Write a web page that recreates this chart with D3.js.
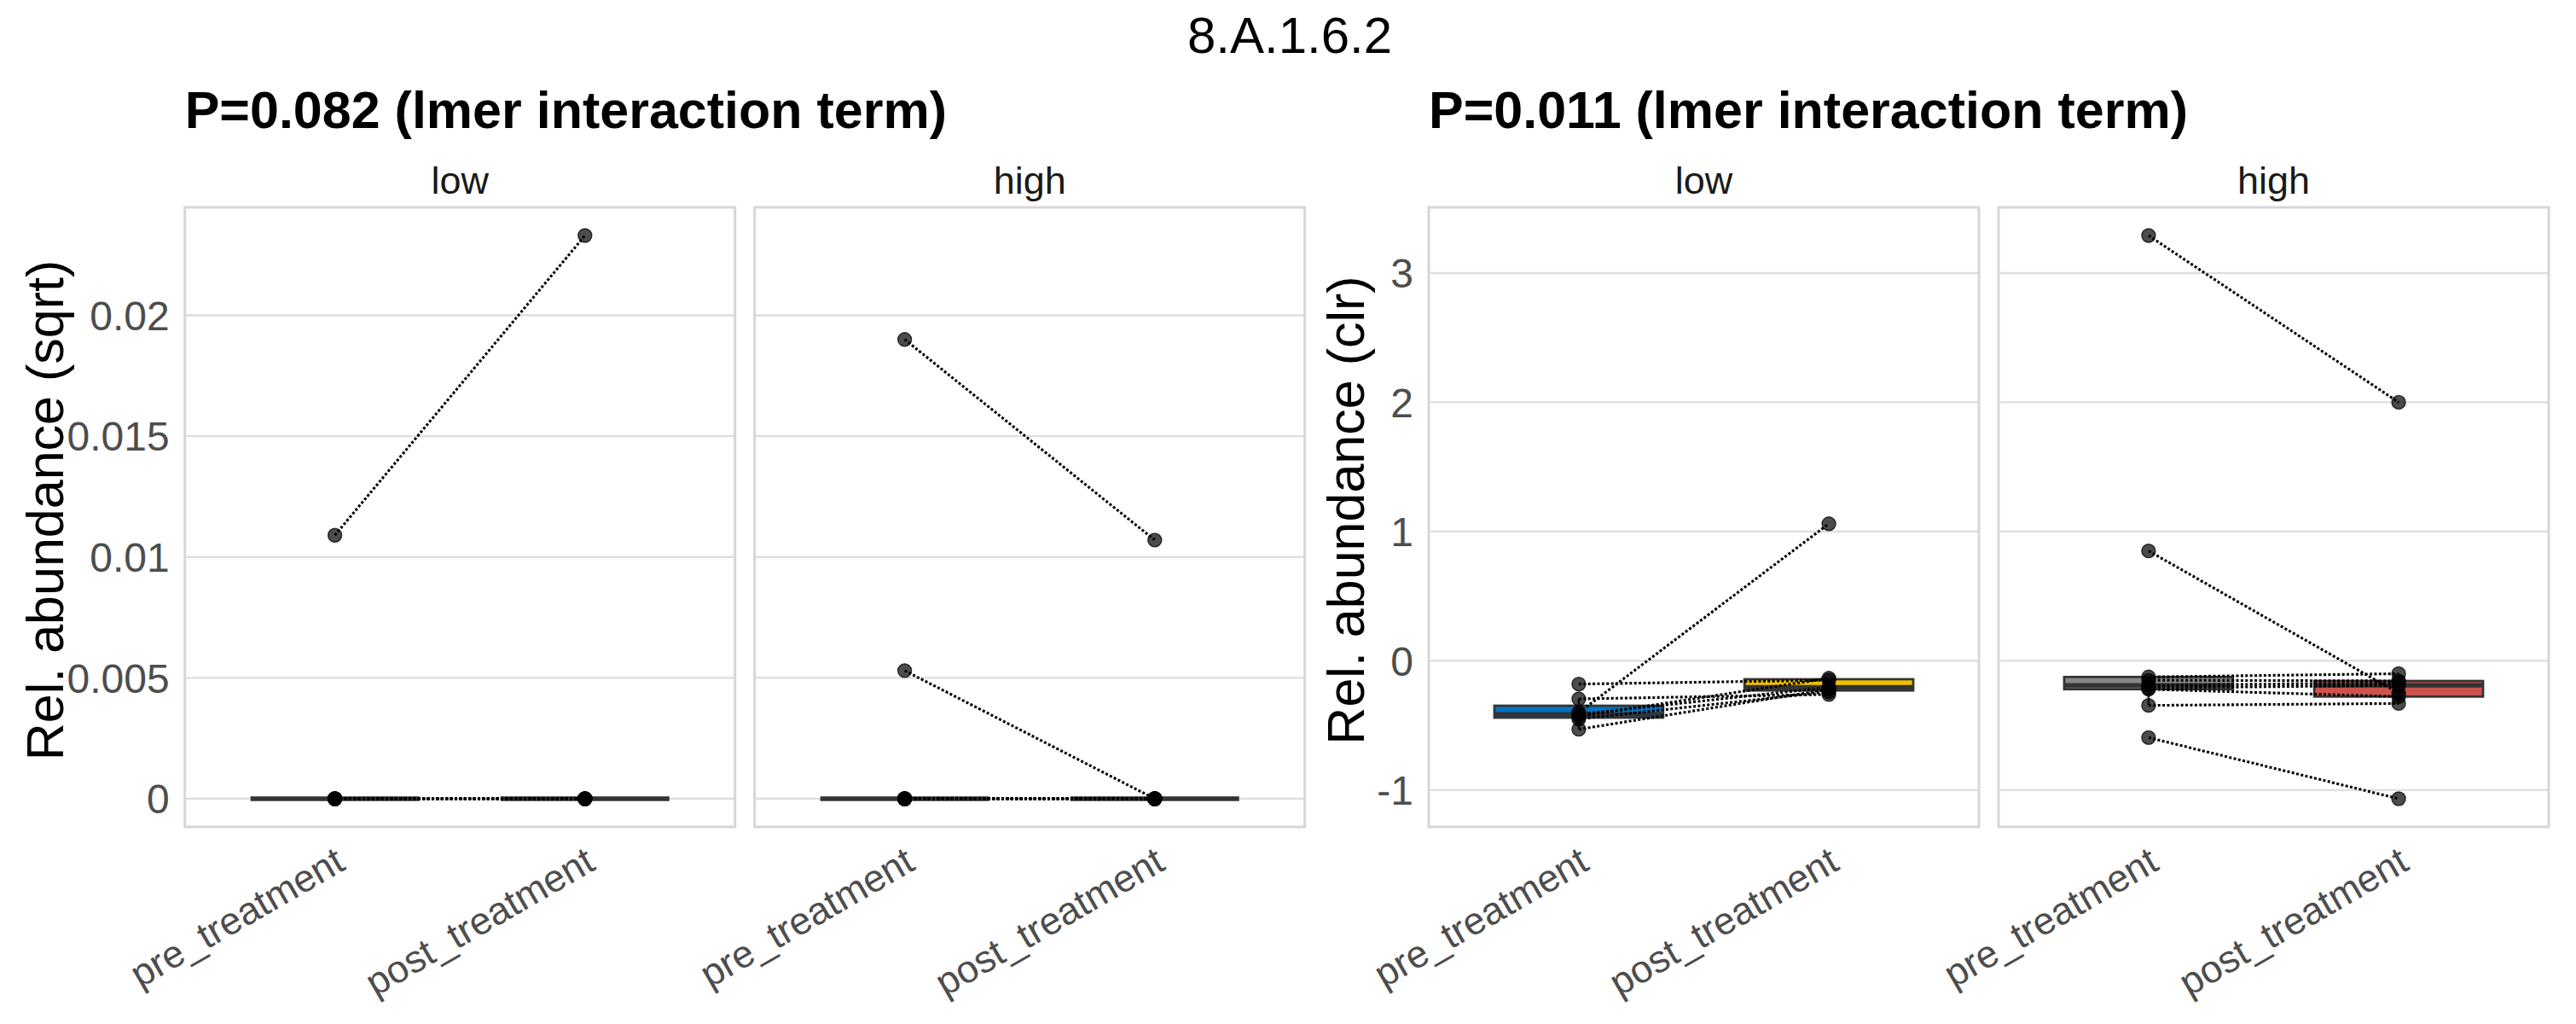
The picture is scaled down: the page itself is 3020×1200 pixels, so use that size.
<!DOCTYPE html>
<html>
<head>
<meta charset="utf-8">
<script src="https://cdn.jsdelivr.net/npm/d3@7"></script>
<style>
  body { margin: 0; background: #fff; }
  text { font-family: "Liberation Sans", Arial, sans-serif; }
</style>
</head>
<body>
<div id="chart"></div>
<script>
// categories
var groups = ["low", "high"];
var timepoints = ["pre_treatment", "post_treatment"];

// sqrt-transformed abundance, paired by subject (index)
var sqrtLowPre   = [0, 0, 0.0109, 0, 0, 0, 0];
var sqrtLowPost  = [0, 0, 0.0233, 0, 0, 0, 0];
var sqrtHighPre  = [0.019, 0.0053, 0, 0, 0, 0, 0, 0, 0];
var sqrtHighPost = [0.0107, 0, 0, 0, 0, 0, 0, 0, 0];

// clr-transformed abundance, paired by subject (index)
var clrLowPre   = [-0.18, -0.295, -0.40, -0.414, -0.43, -0.45, -0.53];
var clrLowPost  = [-0.15, -0.26, 1.06, -0.205, -0.135, -0.24, -0.22];
var clrHighPre  = [3.29, 0.85, -0.125, -0.15, -0.19, -0.21, -0.22, -0.345, -0.594];
var clrHighPost = [2.0, -0.25, -0.10, -0.156, -0.17, -0.19, -0.277, -0.33, -1.067];

// tick labels
var sqrtTicks = [0, 0.005, 0.01, 0.015, 0.02];
var sqrtTickLabels = ["0", "0.005", "0.01", "0.015", "0.02"];
var clrTicks = [-1, 0, 1, 2, 3];
var clrTickLabels = ["-1", "0", "1", "2", "3"];

var mainTitle = "8.A.1.6.2";
var plotTitles = ["P=0.082 (lmer interaction term)", "P=0.011 (lmer interaction term)"];
var yTitles = ["Rel. abundance (sqrt)", "Rel. abundance (clr)"];

// box fill colours (jco)
var boxColors = {
  low: ["#0073C2", "#EFC000"],
  high: ["#868686", "#CD534C"]
};

var svgWidth = 3020;
var svgHeight = 1200;

var svg = d3.select("#chart")
  .append("svg")
  .attr("width", svgWidth)
  .attr("height", svgHeight);

svg.append("rect").attr("width", svgWidth).attr("height", svgHeight).attr("fill", "#fff");

svg.append("text")
  .attr("x", 1512)
  .attr("y", 62)
  .attr("text-anchor", "middle")
  .style("font-size", "60px")
  .text(mainTitle);

var panelTop = 243;
var panelBottom = 969;
var panelW = 645;
var panelGap = 23;

function boxStats(values) {
  var s = values.slice().sort(d3.ascending);
  var q1 = d3.quantile(s, 0.25), med = d3.quantile(s, 0.5), q3 = d3.quantile(s, 0.75);
  var iqr = q3 - q1;
  var lo = d3.min(s.filter(v => v >= q1 - 1.5 * iqr));
  var hi = d3.max(s.filter(v => v <= q3 + 1.5 * iqr));
  return {q1: q1, med: med, q3: q3, lo: lo, hi: hi};
}

function drawPlot(opts) {
  var all = [].concat(opts.data.low[0], opts.data.low[1], opts.data.high[0], opts.data.high[1]);
  var mn = d3.min(all), mx = d3.max(all), span = mx - mn;
  var y = d3.scaleLinear()
    .domain([mn - 0.05 * span, mx + 0.05 * span])
    .range([panelBottom, panelTop]);

  // plot title
  svg.append("text")
    .attr("x", opts.left)
    .attr("y", 150)
    .style("font-size", "61px")
    .style("font-weight", "bold")
    .text(opts.title);

  // y axis title
  svg.append("text")
    .attr("transform", `translate(${opts.yTitleX}, ${(panelTop + panelBottom) / 2 - 8}) rotate(-90)`)
    .attr("text-anchor", "middle")
    .style("font-size", "61px")
    .text(opts.yTitle);

  // y tick labels
  svg.append("g").selectAll("text")
    .data(opts.ticks)
    .enter()
    .append("text")
    .attr("x", opts.left - 18)
    .attr("y", d => y(d))
    .attr("dy", "0.36em")
    .attr("text-anchor", "end")
    .attr("fill", "#4D4D4D")
    .style("font-size", "48px")
    .text((d, i) => opts.tickLabels[i]);

  groups.forEach(function(g, gi) {
    var x0 = opts.left + gi * (panelW + panelGap);
    var x = d3.scalePoint().domain(timepoints).range([x0, x0 + panelW]).padding(0.6);
    var boxW = x.step() * 0.675;
    var pre = opts.data[g][0], post = opts.data[g][1];
    var panel = svg.append("g");

    // strip label
    panel.append("text")
      .attr("x", x0 + panelW / 2)
      .attr("y", 227)
      .attr("text-anchor", "middle")
      .attr("fill", "#1A1A1A")
      .style("font-size", "45px")
      .text(g);

    // gridlines
    panel.append("g").selectAll("line")
      .data(opts.ticks)
      .enter()
      .append("line")
      .attr("x1", x0).attr("x2", x0 + panelW)
      .attr("y1", d => y(d)).attr("y2", d => y(d))
      .attr("stroke", "#DEDEDE")
      .attr("stroke-width", 2.4);

    // panel border
    panel.append("rect")
      .attr("x", x0).attr("y", panelTop)
      .attr("width", panelW).attr("height", panelBottom - panelTop)
      .attr("fill", "none")
      .attr("stroke", "#D6D6D6")
      .attr("stroke-width", 3);

    // boxplots
    timepoints.forEach(function(t, ti) {
      var st = boxStats(opts.data[g][ti]);
      var cx = x(t);
      var bg = panel.append("g");
      bg.append("line")
        .attr("x1", cx).attr("x2", cx)
        .attr("y1", y(st.q3)).attr("y2", y(st.hi))
        .attr("stroke", "#333").attr("stroke-width", 2.7);
      bg.append("line")
        .attr("x1", cx).attr("x2", cx)
        .attr("y1", y(st.q1)).attr("y2", y(st.lo))
        .attr("stroke", "#333").attr("stroke-width", 2.7);
      bg.append("rect")
        .attr("x", cx - boxW / 2).attr("y", y(st.q3))
        .attr("width", boxW).attr("height", Math.max(0, y(st.q1) - y(st.q3)))
        .attr("fill", boxColors[g][ti])
        .attr("stroke", "#333").attr("stroke-width", 2.7);
      bg.append("line")
        .attr("x1", cx - boxW / 2).attr("x2", cx + boxW / 2)
        .attr("y1", y(st.med)).attr("y2", y(st.med))
        .attr("stroke", "#333").attr("stroke-width", 5.4);
    });

    // paired lines
    panel.append("g").selectAll("line")
      .data(pre.map((v, i) => [v, post[i]]))
      .enter()
      .append("line")
      .attr("x1", x(timepoints[0])).attr("x2", x(timepoints[1]))
      .attr("y1", d => y(d[0])).attr("y2", d => y(d[1]))
      .attr("stroke", "#000")
      .attr("stroke-width", 3.1)
      .attr("stroke-dasharray", "3,2.4");

    // points
    var pts = [];
    pre.forEach(v => pts.push({t: timepoints[0], v: v}));
    post.forEach(v => pts.push({t: timepoints[1], v: v}));
    panel.append("g").selectAll("circle")
      .data(pts)
      .enter()
      .append("circle")
      .attr("cx", d => x(d.t))
      .attr("cy", d => y(d.v))
      .attr("r", 8)
      .attr("fill", "#000")
      .attr("fill-opacity", 0.7)
      .attr("stroke", "#000")
      .attr("stroke-opacity", 0.75)
      .attr("stroke-width", 1.4);

    // x tick labels
    panel.append("g").selectAll("text")
      .data(timepoints)
      .enter()
      .append("text")
      .attr("transform", d => `translate(${x(d) - 2}, 990) rotate(-30)`)
      .attr("dy", "0.72em")
      .attr("text-anchor", "end")
      .attr("fill", "#4D4D4D")
      .style("font-size", "45px")
      .text(d => d);
  });
}

drawPlot({
  left: 216.7,
  yTitleX: 74,
  title: plotTitles[0],
  yTitle: yTitles[0],
  ticks: sqrtTicks,
  tickLabels: sqrtTickLabels,
  data: {low: [sqrtLowPre, sqrtLowPost], high: [sqrtHighPre, sqrtHighPost]}
});

drawPlot({
  left: 1675,
  yTitleX: 1599,
  title: plotTitles[1],
  yTitle: yTitles[1],
  ticks: clrTicks,
  tickLabels: clrTickLabels,
  data: {low: [clrLowPre, clrLowPost], high: [clrHighPre, clrHighPost]}
});
</script>
</body>
</html>
